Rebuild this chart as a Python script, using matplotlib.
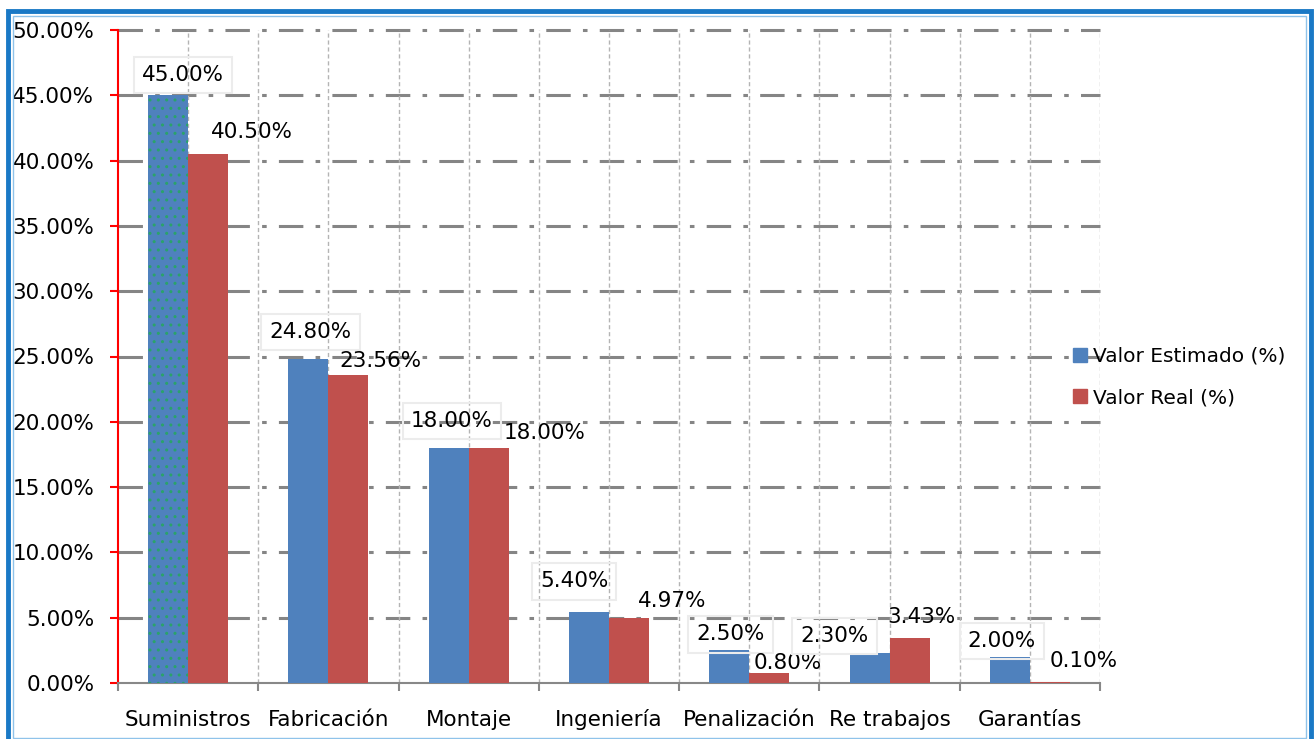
import numpy as np
import matplotlib
matplotlib.use("Agg")
import matplotlib.pyplot as plt
from matplotlib.patches import Rectangle, Patch

plt.rcParams['font.family'] = ['DejaVu Sans']
plt.rcParams['hatch.linewidth'] = 1.0

categorias = ['Suministros', 'Fabricación', 'Montaje', 'Ingeniería',
              'Penalización', 'Re trabajos', 'Garantías']
estimado = [45.00, 24.80, 18.00, 5.40, 2.50, 2.30, 2.00]
real = [40.50, 23.56, 18.00, 4.97, 0.80, 3.43, 0.10]

# desplazamiento de cada etiqueta (px) respecto al centro superior de su barra
desp_est = [(15, 20), (2, 27), (3, 27), (-15, 31), (1, 16), (-35, 17), (-8, 16)]
desp_real = [(44, 22), (32, 14), (56, 15), (43, 17), (18, 10), (12, 21), (34, 21)]

azul = '#4f81bd'
rojo = '#c0504d'
fs = 15.5

W, H = 1316, 739
fig = plt.figure(figsize=(W / 100, H / 100), dpi=100)
ax = fig.add_axes([118 / W, (H - 683) / H, (1100 - 118) / W, (683 - 30) / H])

x = np.arange(len(categorias))
ancho = 0.285
b1 = ax.bar(x - ancho / 2, estimado, ancho, color=azul, zorder=3, lw=0)
b2 = ax.bar(x + ancho / 2, real, ancho, color=rojo, zorder=3, lw=0)
# trama punteada en la primera barra
b1[0].set_hatch('..')
b1[0].set_edgecolor('#2aa36a')
b1[0].set_linewidth(0)

ax.set_xlim(-0.5, len(categorias) - 0.5)
ax.set_ylim(0, 50)
ax.set_yticks(np.arange(0, 51, 5))
ax.set_yticklabels([f'{v:.2f}%' for v in np.arange(0, 51, 5)], fontsize=fs)

ax.set_xticks(np.arange(-0.5, len(categorias), 1.0))
ax.set_xticklabels([])
ax.set_xticks(x, minor=True)
ax.set_xticklabels(categorias, minor=True, fontsize=fs, va='baseline')
ax.tick_params(axis='x', which='major', direction='out', length=6, width=1.5, color='#888888')
ax.tick_params(axis='x', which='minor', length=0, pad=31)
ax.tick_params(axis='y', direction='out', length=6, width=1.5, color='red', pad=11)

for s in ['top', 'right']:
    ax.spines[s].set_visible(False)
ax.spines['left'].set_color('red')
ax.spines['left'].set_linewidth(1.5)
ax.spines['bottom'].set_color('#888888')
ax.spines['bottom'].set_linewidth(1.5)

# rejilla: horizontal raya-punto, vertical discontinua cada media categoría
for yv in np.arange(5, 51, 5):
    ax.axhline(yv, color='#858585', lw=2.2, ls=(0, (8, 4, 1.5, 4)), zorder=1, clip_on=False)
for xv in np.arange(0, len(categorias) + 0.01, 0.5):
    ax.axvline(xv, color='#b4b4b4', lw=1, ls=(0, (3, 2)), zorder=1)

k = 0.72
for i in range(len(categorias)):
    dx, dy = desp_est[i]
    ax.annotate(f'{estimado[i]:.2f}%', (x[i] - ancho / 2, estimado[i]),
                xytext=(dx * k, dy * k), textcoords='offset points',
                ha='center', va='center', fontsize=fs, zorder=5,
                bbox=dict(boxstyle='square,pad=0.38', fc='none', ec='#ececec', lw=1.5))
    dx, dy = desp_real[i]
    ax.annotate(f'{real[i]:.2f}%', (x[i] + ancho / 2, real[i]),
                xytext=(dx * k, dy * k), textcoords='offset points',
                ha='center', va='center', fontsize=fs, zorder=5)

ax.legend(handles=[Patch(color=azul, label='Valor Estimado (%)'),
                   Patch(color=rojo, label='Valor Real (%)')],
          loc='center left', bbox_to_anchor=(1055 / W, (H - 377) / H),
          bbox_transform=fig.transFigure, frameon=False, fontsize=14.5,
          handlelength=0.7, handleheight=0.7, handletextpad=0.3, labelspacing=1.1)

# marco exterior
fig.patches.append(Rectangle((8 / W, -0.05), (1303 / W), (H - 11) / H + 0.05,
                             transform=fig.transFigure, fill=False, ec='#1a79c6', lw=3.5))
fig.patches.append(Rectangle((12.5 / W, 1.5 / H), (1293 / W), (H - 17) / H,
                             transform=fig.transFigure, fill=False, ec='#8fc3ea', lw=1))

fig.savefig('out.png', dpi=100)
